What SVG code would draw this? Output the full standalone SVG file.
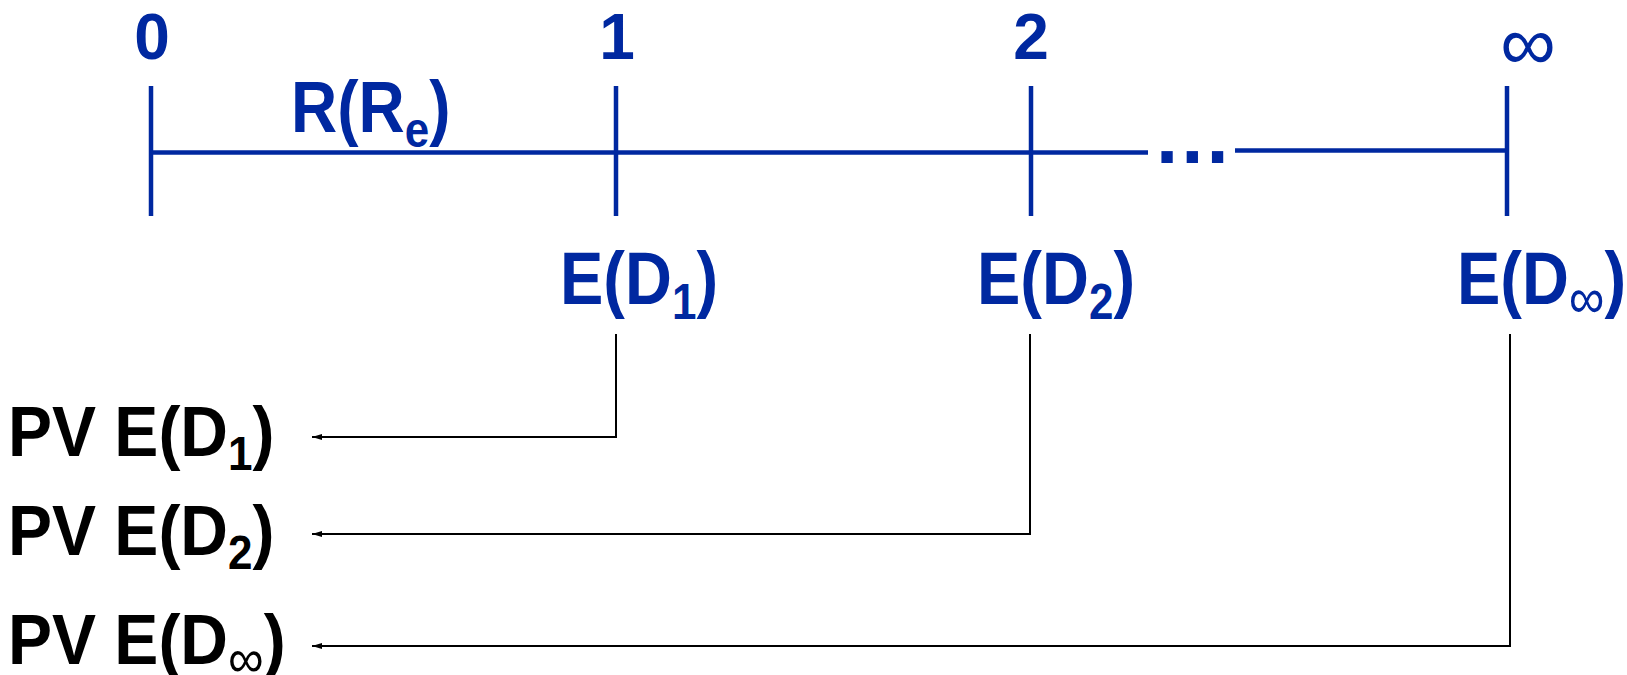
<svg xmlns="http://www.w3.org/2000/svg" width="1627" height="675" viewBox="0 0 1627 675">
<style>
.t{font-family:"Liberation Sans",Arial,sans-serif;font-weight:bold;font-size:64px}
.l{font-size:65px}
.blue{fill:#0028a0}
.blk{fill:#000}
.sub{font-size:44px}
.subi{font-size:50px;font-weight:normal}
.inf{font-weight:normal;font-size:78px}
.axis{stroke:#0028a0;stroke-width:4.5;fill:none}
.conn{stroke:#000;stroke-width:2;fill:none}
</style>
<defs>
<marker id="ah" markerWidth="11" markerHeight="8" refX="10" refY="4" orient="auto" markerUnits="userSpaceOnUse">
<path d="M0,1 L10,4 L0,7 Z" fill="#000"/>
</marker>
</defs>
<g id="timeline">
<line class="axis" x1="151" y1="152.5" x2="1148" y2="152.5"/>
<line class="axis" x1="1235" y1="150.5" x2="1505" y2="150.5"/>
<line class="axis" x1="151" y1="86" x2="151" y2="216"/>
<line class="axis" x1="616" y1="86" x2="616" y2="216"/>
<line class="axis" x1="1031" y1="86" x2="1031" y2="216"/>
<line class="axis" x1="1507" y1="86" x2="1507" y2="216"/>
<text class="t blue" x="1156" y="163" style="font-size:80px;letter-spacing:3px">...</text>
</g>
<g id="t0"><text class="t blue" x="152" y="59" text-anchor="middle">0</text></g>
<g id="t1"><text class="t blue" x="617" y="59" text-anchor="middle">1</text></g>
<g id="t2"><text class="t blue" x="1031" y="59" text-anchor="middle">2</text></g>
<g id="tinf"><text class="t blue inf" x="1528" y="70" text-anchor="middle">∞</text></g>
<g id="rate" transform="translate(291,132) scale(1,1.12)"><text class="t blue">R(R<tspan class="sub" dy="13">e</tspan><tspan dy="-13">)</tspan></text></g>
<g id="ed1" transform="translate(560,304) scale(1,1.15)"><text class="t l blue">E(D<tspan class="sub" dy="13">1</tspan><tspan dy="-13">)</tspan></text></g>
<g id="ed2" transform="translate(977,304) scale(1,1.15)"><text class="t l blue">E(D<tspan class="sub" dy="13">2</tspan><tspan dy="-13">)</tspan></text></g>
<g id="edinf" transform="translate(1457,304) scale(1,1.15)"><text class="t l blue">E(D<tspan class="subi" dy="12">∞</tspan><tspan dy="-12">)</tspan></text></g>
<g id="pv1" transform="translate(8,456) scale(1,1.08)"><text class="t blk" style="font-size:66px">PV E(D<tspan class="sub" dy="13">1</tspan><tspan dy="-13">)</tspan></text></g>
<g id="pv2" transform="translate(8,555) scale(1,1.08)"><text class="t blk" style="font-size:66px">PV E(D<tspan class="sub" dy="13">2</tspan><tspan dy="-13">)</tspan></text></g>
<g id="pvinf" transform="translate(8,664) scale(1,1.08)"><text class="t blk" style="font-size:66px">PV E(D<tspan class="subi" dy="12">∞</tspan><tspan dy="-12">)</tspan></text></g>
<g id="connectors">
<polyline class="conn" points="616,334 616,437 312,437" marker-end="url(#ah)"/>
<polyline class="conn" points="1030,334 1030,534 312,534" marker-end="url(#ah)"/>
<polyline class="conn" points="1510,334 1510,646 312,646" marker-end="url(#ah)"/>
</g>
</svg>
